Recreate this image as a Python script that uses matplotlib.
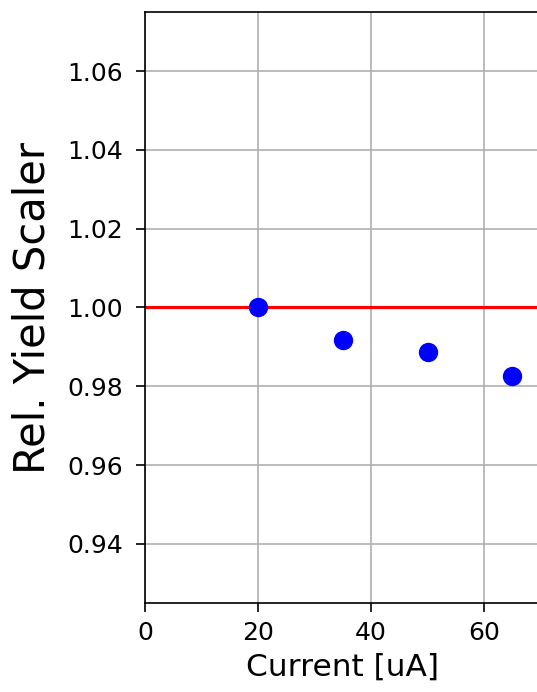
import matplotlib
matplotlib.use("Agg")
import matplotlib.pyplot as plt

current = [20, 35, 50, 65]
rel_yield = [1.0, 0.9917, 0.9888, 0.9825]
reference_level = 1.0

fig = plt.figure(figsize=(537/150, 692/150), dpi=150)
ax = fig.add_axes([145/537, 1-603/692, 395.5/537, (603-12)/692])

ax.grid(True, zorder=0)
ax.axhline(reference_level, color='red', linewidth=1.5, zorder=2)
ax.plot(current, rel_yield, 'o', color='blue', markersize=8.3, zorder=3)

ax.set_xlim(0, 70)
ax.set_ylim(0.925, 1.075)
ax.set_xticks([0, 20, 40, 60])
ax.set_yticks([0.94, 0.96, 0.98, 1.00, 1.02, 1.04, 1.06])
ax.tick_params(labelsize=12, length=4.5)
ax.tick_params(axis='y', pad=6)
ax.tick_params(axis='x', pad=4)
ax.set_xlabel("Current [uA]", fontsize=15)
ax.set_ylabel("Rel. Yield Scaler", fontsize=20, labelpad=6.5)

fig.savefig("out.png", dpi=150)
